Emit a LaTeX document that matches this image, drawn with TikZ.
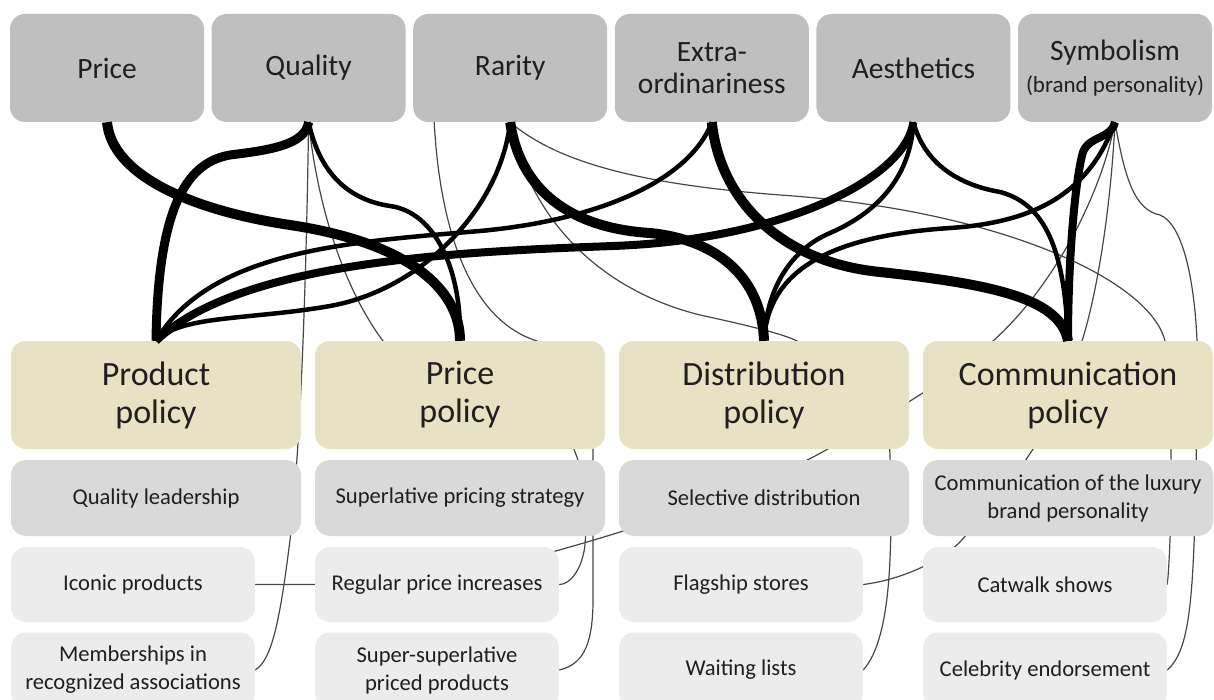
\documentclass[tikz,border=0pt]{standalone}
\usepackage{fontspec}
\setmainfont{Carlito}
\usetikzlibrary{calc,backgrounds}
\definecolor{topgray}{RGB}{191,191,191}
\definecolor{polbeige}{RGB}{230,226,195}
\definecolor{subdark}{RGB}{217,217,217}
\definecolor{sublight}{RGB}{236,236,236}
\definecolor{linegray}{RGB}{70,70,70}
\tikzset{
	box/.style={rounded corners=15pt, inner sep=0pt, align=center, text=black!88},
	topbox/.style={box, fill=topgray, minimum width=194pt, minimum height=108pt, font=\fontsize{29.5}{32}\selectfont},
	polbox/.style={box, fill=polbeige, minimum width=290pt, minimum height=108pt, font=\fontsize{34}{38}\selectfont},
	subbox/.style={box, fill=subdark, minimum width=290pt, minimum height=76pt, font=\fontsize{22.6}{28}\selectfont},
	itembox/.style={box, fill=sublight, minimum width=244pt, minimum height=75pt, font=\fontsize{22.6}{28}\selectfont},
	tie/.style={draw=black, line width=#1},
	sublink/.style={draw=linegray, line width=1.2pt}
}
\begin{document}
\begin{tikzpicture}[x=1pt, y=-1pt]
	\useasboundingbox (0,0) rectangle (1214,700);
	\clip (0,0) rectangle (1214,700);
	\foreach \n/\t [count=\i from 0] in {price/Price, quality/Quality, rarity/Rarity, extra/{Extra-\\ordinariness}, aesth/Aesthetics, symb/{Symbolism\\{\fontsize{23}{26}\selectfont(brand personality)}}}
	\node[topbox] (\n) at (107+201.6*\i,68) {\t};
	\foreach \n/\t [count=\i from 0] in {prodpol/Product, pricepol/Price, distpol/Distribution, commpol/Communication}
	\node[polbox] (\n) at (156+304*\i,395) {\t\\policy};
	\foreach \n/\t [count=\i from 0] in {qualead/Quality leadership, superl/Superlative pricing strategy, selective/Selective distribution, commlux/{Communication of the luxury\\brand personality}}
	\node[subbox] (\n) at (156+304*\i,498) {\t};
	\foreach \n/\t [count=\i from 0] in {iconic/Iconic products, regular/Regular price increases, flagship/Flagship stores, catwalk/Catwalk shows}
	\node[itembox] (\n) at (133+304*\i,584.5) {\t};
	\foreach \n/\t [count=\i from 0] in {memb/{Memberships in\\recognized associations}, superp/{Super-superlative\\priced products}, waiting/Waiting lists, celeb/Celebrity endorsement}
	\node[itembox] (\n) at (133+304*\i,670) {\t};

	\begin{pgfonlayer}{background}
	\draw[sublink] (quality.south) .. controls (306,300) and (300,450) .. (290,540) .. controls (280,620) and (272,660) .. (memb.east);
	\draw[sublink] (quality.south) .. controls (318,210) and (345,290) .. (383,341) .. controls (420,400) and (593,380) .. (593,449) -- (593,600) .. controls (593,650) and (580,665) .. (superp.east);
	\draw[sublink] ($(rarity.south)+(-76,0)$) .. controls (440,230) and (470,320) .. (537,341) .. controls (560,360) and (565,430) .. (575,452) .. controls (585,475) and (587,520) .. (585,545) .. controls (582,570) and (570,584.5) .. (regular.east) -- (iconic.east);
	\draw[sublink] (rarity.south) .. controls (530,220) and (600,290) .. (700,315) .. controls (760,328) and (785,335) .. (797,341) .. controls (850,370) and (888,400) .. (890,455) .. controls (893,560) and (890,640) .. (waiting.east);
	\draw[sublink] (rarity.south) .. controls (560,165) and (650,185) .. (780,195) .. controls (1000,210) and (1150,280) .. (1165,341) .. controls (1172,380) and (1172,500) .. (1170,540) .. controls (1169,565) and (1168,578) .. (catwalk.east);
	\draw[sublink] (symb.south) .. controls (1100,200) and (1050,290) .. (993,341) .. controls (950,380) and (880,420) .. (817,455) .. controls (750,490) and (650,525) .. ($(regular.north east)+(-10,6)$);
	\draw[sublink] (symb.south) .. controls (1110,220) and (1095,300) .. (1082,341) .. controls (1060,400) and (1040,440) .. (1029,455) .. controls (1000,500) and (975,525) .. (960,542) .. controls (940,562) and (900,580) .. (flagship.east);
	\draw[sublink] (symb.south) .. controls (1125,180) and (1135,210) .. (1160,215) .. controls (1185,225) and (1195,290) .. (1197,341) -- (1196,480) .. controls (1193,600) and (1190,650) .. (celeb.east);
	\end{pgfonlayer}

	\draw[tie=10pt] (price.south) .. controls (112,175) and (190,210) .. (290,225) .. controls (410,243) and (460,290) .. (pricepol.north);
	\draw[tie=9pt] (quality.south) .. controls (305,145) and (270,150) .. (230,155) .. controls (190,162) and (158,200) .. (prodpol.north);
	\draw[tie=4.5pt] (quality.south) .. controls (320,175) and (350,200) .. (390,206) .. controls (435,212) and (462,270) .. (pricepol.north);
	\draw[tie=4.5pt] (rarity.south) .. controls (500,210) and (420,290) .. (330,306) .. controls (250,320) and (180,315) .. (prodpol.north);
	\draw[tie=4.5pt] (extra.south) .. controls (690,180) and (600,220) .. (480,231) .. controls (350,242) and (210,250) .. (prodpol.north);
	\draw[tie=8pt] (aesth.south) .. controls (905,180) and (780,240) .. (613,246) .. controls (450,252) and (240,262) .. (prodpol.north);
	\draw[tie=10pt] (rarity.south) .. controls (520,190) and (570,228) .. (650,233) .. controls (720,240) and (762,280) .. (distpol.north);
	\draw[tie=10pt] (extra.south) .. controls (720,200) and (780,262) .. (880,272) .. controls (1000,285) and (1060,300) .. (commpol.north);
	\draw[tie=4.5pt] (aesth.south) .. controls (910,190) and (860,220) .. (830,233) .. controls (790,250) and (766,290) .. (distpol.north);
	\draw[tie=4.5pt] (symb.south) .. controls (1090,190) and (1040,222) .. (950,228) .. controls (830,236) and (768,270) .. (distpol.north);
	\draw[tie=4.5pt] (aesth.south) .. controls (925,165) and (960,185) .. (1000,192) .. controls (1050,205) and (1065,260) .. (commpol.north);
	\draw[tie=8pt] (symb.south) .. controls (1110,140) and (1090,135) .. (1083,152) .. controls (1075,180) and (1068,260) .. (commpol.north);
\end{tikzpicture}
\end{document}
